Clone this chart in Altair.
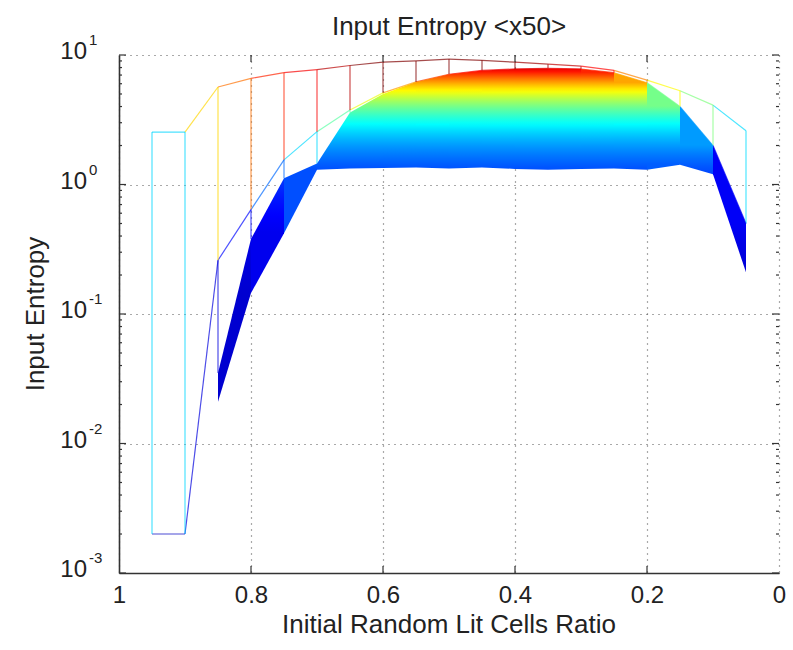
import math
import altair as alt
import pandas as pd

# ---------------- data ----------------
x_ratio = [0.05, 0.10, 0.15, 0.20, 0.25, 0.30, 0.35, 0.40, 0.45, 0.50,
           0.55, 0.60, 0.65, 0.70, 0.75, 0.80, 0.85, 0.90, 0.95]
# first (outer) trace of the mesh
top_row = [2.6, 4.1, 5.3, 6.4, 7.6, 8.2, 8.5, 8.8, 9.1, 9.3,
           9.0, 8.8, 8.3, 7.7, 7.3, 6.6, 5.66, 2.54, 2.54]
# second trace
second_row = [0.5, 2.0, 4.0, 6.1, 7.3, 7.8, 7.9, 7.8, 7.6, 7.1,
              6.2, 5.1, 3.76, 2.56, 1.55, 0.64, 0.26, 0.002, 0.002]
# envelope of the dense bundle of remaining traces
band_upper = [0.5, 2.0, 4.0, 6.1, 7.3, 7.8, 7.9, 7.8, 7.6, 7.1,
              6.2, 5.0, 3.6, 1.45, 1.12, 0.38, 0.035, None, None]
band_lower = [0.21, 1.2, 1.42, 1.3, 1.33, 1.32, 1.3, 1.32, 1.35, 1.33,
              1.35, 1.34, 1.33, 1.3, 0.42, 0.145, 0.021, None, None]

y_decades = [0.001, 0.01, 0.1, 1, 10]
y_exponents = ["-3", "-2", "-1", "0", "1"]
x_ticks = [1, 0.8, 0.6, 0.4, 0.2, 0]

# ---------------- styling ----------------
W, H = 660, 518
CMIN, CMAX = -0.6, 8.8
FONT = "Liberation Sans"
TXT = "#222222"
AX = "#333333"


def jet(v):
    t = max(0.0, min(1.0, (v - CMIN) / (CMAX - CMIN)))
    r = min(max(min(4 * t - 1.5, -4 * t + 4.5), 0), 1)
    g = min(max(min(4 * t - 0.5, -4 * t + 3.5), 0), 1)
    b = min(max(min(4 * t + 0.5, -4 * t + 2.5), 0), 1)
    return "#%02x%02x%02x" % (round(r * 255), round(g * 255), round(b * 255))


x_scale = alt.Scale(domain=[0, 1], reverse=True, nice=False, zero=False)
y_scale = alt.Scale(type="log", domain=[0.001, 10], nice=False)
c_dom = [CMIN + (CMAX - CMIN) * i / 8 for i in range(9)]
color_scale = alt.Scale(domain=c_dom, range=[jet(v) for v in c_dom],
                        clamp=True, interpolate="rgb")

x_axis = alt.Axis(values=x_ticks, format="~g", grid=True, gridDash=[1, 5],
                  gridColor="#555555", gridWidth=1.2, tickSize=0,
                  labelFontSize=24, labelFont=FONT, labelColor=TXT,
                  labelPadding=10, labelFlush=False, domainColor=AX,
                  domainWidth=1.6, title=None)
y_axis = alt.Axis(values=y_decades, grid=True, gridDash=[1, 5],
                  gridColor="#555555", gridWidth=1.2, tickSize=0,
                  labels=False, domainColor=AX, domainWidth=1.6, title=None)


def X(f):
    return alt.X(f, scale=x_scale, axis=x_axis)


def Y(f):
    return alt.Y(f, scale=y_scale, axis=y_axis)


# ---------------- band fill (one area per x interval) ----------------
layers = []
n = len(x_ratio)
for k in range(n - 1):
    if band_upper[k + 1] is None or band_upper[k] is None:
        continue
    lo_k, hi_k = band_lower[k], band_upper[k]
    top = max(hi_k, band_upper[k + 1])
    bot = min(lo_k, band_lower[k + 1])
    stops = []
    N = 30
    for i in range(N + 1):
        o = i / N
        lv = math.log10(top) - o * (math.log10(top) - math.log10(bot))
        v = min(max(10 ** lv, lo_k), hi_k)
        stops.append(alt.GradientStop(offset=o, color=jet(v)))
    df = pd.DataFrame({
        "x": [x_ratio[k], x_ratio[k + 1]],
        "lo": [band_lower[k], band_lower[k + 1]],
        "hi": [band_upper[k], band_upper[k + 1]],
    })
    area = alt.Chart(df).mark_area(
        color=alt.Gradient(gradient="linear", stops=stops, x1=0, x2=0, y1=0, y2=1),
        strokeWidth=0, opacity=1,
    ).encode(x=X("x:Q"), y=Y("lo:Q"), y2="hi:Q")
    layers.append(area)

# ---------------- mesh edges (line segments) ----------------
seg = []
for arr in (top_row, second_row):
    for k in range(n - 1):
        seg.append({"x": x_ratio[k], "x2": x_ratio[k + 1],
                    "y": arr[k], "y2": arr[k + 1], "c": arr[k]})
for k in range(n):
    seg.append({"x": x_ratio[k], "x2": x_ratio[k],
                "y": top_row[k], "y2": second_row[k], "c": top_row[k]})
    if band_upper[k] is not None:
        seg.append({"x": x_ratio[k], "x2": x_ratio[k],
                    "y": second_row[k], "y2": band_upper[k], "c": second_row[k]})
seg_df = pd.DataFrame(seg)

edges = alt.Chart(seg_df).mark_rule(strokeWidth=1.2, opacity=0.7).encode(
    x=X("x:Q"), x2="x2:Q", y=Y("y:Q"), y2="y2:Q",
    color=alt.Color("c:Q", scale=color_scale, legend=None),
)
layers.insert(0, edges)

# ---------------- inward ticks ----------------
minor = [m * 10.0 ** e for e in range(-3, 1) for m in range(2, 10)]
maj_df = pd.DataFrame({"v": y_decades})
min_df = pd.DataFrame({"v": minor})
xt_df = pd.DataFrame({"v": [0.8, 0.6, 0.4, 0.2]})


def ytick(df, x0, x1):
    return alt.Chart(df).mark_rule(color=AX, strokeWidth=1.2).encode(
        y=Y("v:Q"), x=alt.value(x0), x2=alt.value(x1))


def xtick(df, y0, y1):
    return alt.Chart(df).mark_rule(color=AX, strokeWidth=1.2).encode(
        x=X("v:Q"), y=alt.value(y0), y2=alt.value(y1))


layers += [ytick(maj_df, 0, 7), ytick(min_df, 0, 3),
           ytick(maj_df, W, W - 7), ytick(min_df, W, W - 3),
           xtick(xt_df, H, H - 7), xtick(xt_df, 0, 7)]

# ---------------- y tick labels 10^k ----------------
lab_df = pd.DataFrame({"v": y_decades, "base": ["10"] * 5, "exp": y_exponents})
layers.append(alt.Chart(lab_df).mark_text(
    align="right", baseline="middle", fontSize=24, font=FONT, color=TXT, dy=-3
).encode(y=Y("v:Q"), x=alt.value(-32), text="base:N"))
layers.append(alt.Chart(lab_df).mark_text(
    align="left", baseline="middle", fontSize=15, font=FONT, color=TXT, dy=-15
).encode(y=Y("v:Q"), x=alt.value(-30), text="exp:N"))

# ---------------- titles ----------------
tdf = pd.DataFrame({"t": ["Input Entropy <x50>"]})
layers.append(alt.Chart(tdf).mark_text(
    align="center", baseline="middle", fontSize=26, font=FONT, color=TXT
).encode(x=alt.value(W / 2), y=alt.value(-28), text="t:N"))
xdf = pd.DataFrame({"t": ["Initial Random Lit Cells Ratio"]})
layers.append(alt.Chart(xdf).mark_text(
    align="center", baseline="middle", fontSize=26, font=FONT, color=TXT
).encode(x=alt.value(W / 2), y=alt.value(H + 52), text="t:N"))
ydf = pd.DataFrame({"t": ["Input Entropy"]})
layers.append(alt.Chart(ydf).mark_text(
    align="center", baseline="middle", fontSize=26, font=FONT, color=TXT, angle=270
).encode(x=alt.value(-83), y=alt.value(H / 2), text="t:N"))

chart = alt.layer(*layers).properties(
    width=W, height=H,
    autosize=alt.AutoSizeParams(type="none"),
    padding={"left": 119, "top": 55, "right": 14, "bottom": 77},
    background="white",
).configure_view(stroke=None)

chart.save("out.html", embed_options={"renderer": "svg", "actions": False})
